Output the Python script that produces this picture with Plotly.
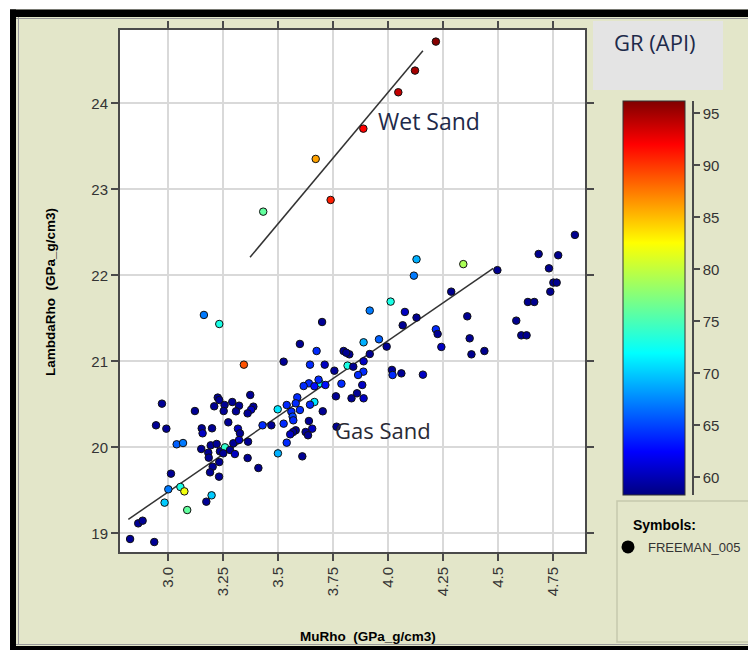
import plotly.graph_objects as go

# ---------------- data ----------------
gas_mu = [4.130, 4.118, 4.343, 4.498, 4.686, 4.775, 4.733, 4.753, 4.768, 4.739,
          4.637, 4.666, 4.584, 4.607, 4.631, 4.288, 4.012, 3.917, 4.077, 4.130,
          4.067, 4.361, 4.218, 4.226, 4.372, 4.243, 4.380, 4.439, 3.700, 3.889,
          3.959, 3.994, 3.917, 3.798, 3.824, 3.810, 3.599, 3.675, 3.525, 3.645,
          3.712, 3.816, 3.842, 3.889, 3.756, 3.888, 3.864, 4.018, 4.021, 4.061,
          4.159, 3.788, 3.883, 3.859, 3.834, 3.889, 3.763, 3.690, 3.715, 3.684,
          3.640, 3.616, 3.665, 3.665, 3.645, 3.703, 3.587, 3.580, 3.539, 3.599,
          3.560, 3.566, 3.569, 3.498, 3.525, 3.640, 3.655, 3.625, 3.636, 3.580,
          3.568, 3.555, 3.539, 3.499, 3.610, 3.469, 3.429, 3.373, 3.387, 3.377,
          3.361, 3.322, 3.308, 3.291, 3.225, 3.232, 3.209, 3.256, 3.252, 3.121,
          2.971, 2.944, 2.991, 3.152, 3.156, 3.199, 3.273, 3.317, 3.326, 3.363,
          3.296, 3.322, 3.038, 3.067, 3.150, 3.193, 3.220, 3.182, 3.184, 3.235,
          3.258, 3.281, 3.303, 3.250, 3.232, 3.361, 3.410, 3.202, 3.190, 3.231,
          3.012, 3.000, 3.055, 3.073, 2.983, 3.086, 3.197, 3.173, 2.863, 2.883,
          2.826, 2.936, 3.162, 3.232, 3.344, 4.851, 3.766]
gas_lambda = [22.186, 21.996, 22.130, 22.060, 22.248, 22.233, 22.081, 21.915, 21.915, 21.810,
              21.690, 21.690, 21.473, 21.302, 21.302, 21.810, 21.694, 21.590, 21.574, 21.508,
              21.419, 21.523, 21.372, 21.318, 21.267, 21.167, 21.081, 21.120, 21.457, 21.221,
              21.256, 21.171, 21.085, 21.120, 21.081, 21.100, 21.202, 21.120, 20.996, 20.961,
              20.961, 20.950, 20.938, 21.000, 20.891, 20.880, 20.841, 20.900, 20.841, 20.860,
              20.845, 20.740, 20.725, 20.628, 20.570, 20.570, 20.593, 20.744, 20.725, 20.787,
              20.744, 20.713, 20.710, 20.527, 20.496, 20.419, 20.581, 20.512, 20.492, 20.434,
              20.415, 20.357, 20.314, 20.442, 20.275, 20.306, 20.217, 20.178, 20.140, 20.198,
              20.178, 20.151, 20.054, 19.930, 19.895, 20.256, 20.256, 20.609, 20.473, 20.438,
              20.395, 20.484, 20.419, 20.527, 20.578, 20.550, 20.477, 20.492, 20.422, 20.422,
              20.508, 20.256, 20.217, 20.221, 20.163, 20.221, 20.291, 20.217, 20.163, 20.066,
              20.047, 20.085, 20.035, 20.050, 19.981, 20.023, 20.039, 19.938, 19.880, 19.953,
              20.000, 19.969, 19.922, 19.930, 19.829, 19.876, 19.760, 19.775, 19.709, 19.659,
              19.694, 19.512, 19.539, 19.488, 19.357, 19.271, 19.442, 19.368, 19.116, 19.147,
              18.934, 18.899, 21.539, 21.434, 20.961, 22.470, 20.240]
gas_gr = [69, 67, 79, 58.8, 58.8, 58.8, 58.8, 58.8, 58.8, 58.8,
          58.8, 58.8, 58.8, 58.8, 58.8, 58.8, 73, 67, 60.5, 58.8,
          59, 59, 64, 59, 59, 60.5, 58.8, 58.8, 59, 69,
          66, 59, 59, 59, 59, 59, 59, 64, 59, 64,
          60.5, 73, 59, 60.5, 59, 64, 64, 59, 64, 59,
          60.5, 64, 60.5, 59, 59, 60.5, 59, 72, 63, 64,
          64, 64, 63, 71, 64, 59, 64, 64, 64, 64,
          64, 65, 64, 71, 64, 59, 60.5, 59, 59, 59,
          59, 60.5, 64, 69, 59, 59, 64, 59, 59, 60.5,
          59, 59, 59, 59, 59, 59, 59, 59, 59, 59,
          59, 59, 59, 59, 60.5, 59, 59, 60.5, 59, 59,
          59, 60.5, 66, 67, 59, 59, 59, 59, 59, 59,
          74, 59, 60.5, 59, 59, 59, 58.8, 59, 59, 59,
          59, 67, 73, 82, 70, 76, 70, 59, 59, 59,
          59, 59, 67, 73, 89, 58.8, 59]

wet_mu = [4.218, 4.123, 4.047, 3.888, 3.671, 3.739, 3.432]
wet_lambda = [24.717, 24.380, 24.128, 23.705, 23.353, 22.876, 22.740]
wet_gr = [96, 95, 94, 92, 86, 91, 76]

gas_trend_mu = [2.818, 4.479]
gas_trend_lambda = [19.163, 22.080]
wet_trend_mu = [3.372, 4.159]
wet_trend_lambda = [22.21, 24.61]

x_tickvals = [3.0, 3.25, 3.5, 3.75, 4.0, 4.25, 4.5, 4.75]
x_ticktext = ["3.0", "3.25", "3.5", "3.75", "4.0", "4.25", "4.5", "4.75"]
y_tickvals = [19, 20, 21, 22, 23, 24]
gr_tickvals = [60, 65, 70, 75, 80, 85, 90, 95]
gr_min, gr_max = 58.3, 96.2

# ---------------- layout geometry ----------------
W, H = 748, 650
L, R, T, B = 120, 0, 30, 98
PW, PH = W - L - R, H - T - B


def fx(p):
    return (p - L) / PW


def fy(p):
    return (H - B - p) / PH


jet = [[0.0, "rgb(0,0,128)"], [0.11, "rgb(0,0,255)"], [0.36, "rgb(0,255,255)"],
       [0.5, "rgb(128,255,128)"], [0.64, "rgb(255,255,0)"], [0.89, "rgb(255,0,0)"],
       [1.0, "rgb(128,0,0)"]]

BEIGE = "#e3e6c9"
TXT = "#1e2a4a"
FONT = "Liberation Sans, Arial, sans-serif"

fig = go.Figure()

fig.add_trace(go.Scatter(x=gas_trend_mu, y=gas_trend_lambda, mode="lines",
                         line=dict(color="#333333", width=1.5), showlegend=False,
                         hoverinfo="skip"))
fig.add_trace(go.Scatter(x=wet_trend_mu, y=wet_trend_lambda, mode="lines",
                         line=dict(color="#333333", width=1.5), showlegend=False,
                         hoverinfo="skip"))

fig.add_trace(go.Scatter(
    x=gas_mu + wet_mu, y=gas_lambda + wet_lambda, mode="markers", showlegend=False,
    marker=dict(size=7.5, color=gas_gr + wet_gr, colorscale=jet, cmin=gr_min, cmax=gr_max,
                line=dict(color="#111111", width=1),
                colorbar=dict(x=fx(623), xanchor="left", xpad=0, ypad=0,
                              thickness=62, thicknessmode="pixels",
                              len=394, lenmode="pixels", y=fy(298), yanchor="middle",
                              showticklabels=False, ticks="",
                              outlinewidth=1, outlinecolor="#333333")),
))

# legend entry
fig.add_trace(go.Scatter(x=[None], y=[None], mode="markers", name="FREEMAN_005",
                         marker=dict(size=13, color="black"), showlegend=True))

# colour scale axis
fig.add_trace(go.Scatter(x=[None], y=[None], xaxis="x2", yaxis="y2",
                         showlegend=False, hoverinfo="skip"))

axis_common = dict(showgrid=True, gridcolor="#d9d9d9", gridwidth=2, zeroline=False,
                   showline=True, linecolor="#4a4a4a", linewidth=2, mirror="ticks",
                   ticks="outside", ticklen=7, tickwidth=1.5, tickcolor="#4a4a4a",
                   tickfont=dict(family=FONT, size=15, color="#333333"))

fig.update_layout(
    width=W, height=H,
    margin=dict(l=L, r=R, t=T, b=B, pad=0, autoexpand=False),
    paper_bgcolor=BEIGE, plot_bgcolor="rgba(0,0,0,0)",
    xaxis=dict(domain=[0, fx(585)], range=[2.78, 4.897], tickvals=x_tickvals,
               ticktext=x_ticktext, tickangle=-90, anchor="y", **axis_common),
    yaxis=dict(domain=[0, 1], range=[18.783, 24.852], tickvals=y_tickvals,
               anchor="x", **axis_common),
    xaxis2=dict(domain=[fx(623), fx(692)], range=[0, 1], visible=False, anchor="y2"),
    yaxis2=dict(domain=[fy(495), fy(101)], range=[gr_min, gr_max], anchor="x2",
                side="right", showline=True, linecolor="#4a4a4a", linewidth=1.5,
                ticks="outside", ticklen=6, tickwidth=1.5, tickcolor="#4a4a4a",
                tickvals=gr_tickvals, showgrid=False, zeroline=False,
                tickfont=dict(family=FONT, size=15, color="#333333")),
    showlegend=True,
    legend=dict(x=fx(608), y=fy(547), xanchor="left", yanchor="middle",
                bgcolor="rgba(0,0,0,0)", borderwidth=0,
                font=dict(family=FONT, size=13, color="#333333")),
    font=dict(family=FONT),
)

shapes = [
    # white plot background
    dict(type="rect", xref="x domain", yref="y domain", x0=0, x1=1, y0=0, y1=1,
         fillcolor="white", line=dict(width=0), layer="below"),
    # outer frame
    dict(type="rect", xref="paper", yref="paper", x0=fx(0), x1=fx(W), y0=fy(9.5), y1=fy(0),
         fillcolor="white", line=dict(width=0)),
    dict(type="rect", xref="paper", yref="paper", x0=fx(0), x1=fx(10), y0=fy(H), y1=fy(0),
         fillcolor="white", line=dict(width=0)),
    dict(type="rect", xref="paper", yref="paper", x0=fx(10), x1=fx(W), y0=fy(17), y1=fy(9.5),
         fillcolor="black", line=dict(width=0)),
    dict(type="rect", xref="paper", yref="paper", x0=fx(10), x1=fx(16), y0=fy(H), y1=fy(9.5),
         fillcolor="black", line=dict(width=0)),
    dict(type="rect", xref="paper", yref="paper", x0=fx(10), x1=fx(W), y0=fy(H), y1=fy(646),
         fillcolor="black", line=dict(width=0)),
    dict(type="line", xref="paper", yref="paper", x0=fx(16), x1=fx(W), y0=fy(18.5), y1=fy(18.5),
         line=dict(color="#9a9a9a", width=1)),
    dict(type="line", xref="paper", yref="paper", x0=fx(18.5), x1=fx(18.5), y0=fy(645), y1=fy(17),
         line=dict(color="#9a9a9a", width=1)),
    dict(type="line", xref="paper", yref="paper", x0=fx(16), x1=fx(W), y0=fy(644.5), y1=fy(644.5),
         line=dict(color="#9a9a9a", width=1)),
    # title box
    dict(type="rect", xref="paper", yref="paper", x0=fx(593), x1=fx(723), y0=fy(90), y1=fy(21),
         fillcolor="#e4e4e4", line=dict(width=0)),
    # legend box
    dict(type="rect", xref="paper", yref="paper", x0=fx(617), x1=fx(760), y0=fy(642), y1=fy(501),
         fillcolor="rgba(0,0,0,0)", line=dict(color="#c6c9ad", width=1.5)),
]
fig.update_layout(shapes=shapes)

annotations = [
    dict(text="GR (API)", xref="paper", yref="paper", x=fx(655), y=fy(42),
         xanchor="center", yanchor="middle", showarrow=False,
         font=dict(family="Open Sans, sans-serif", size=22, color=TXT)),
    dict(text="Wet Sand", xref="x", yref="y", x=3.945, y=23.794,
         xanchor="left", yanchor="middle", showarrow=False,
         font=dict(family="Open Sans, sans-serif", size=23, color=TXT)),
    dict(text="Gas Sand", xref="x", yref="y", x=3.751, y=20.201,
         xanchor="left", yanchor="middle", showarrow=False,
         font=dict(family="Open Sans, sans-serif", size=22, color="#2a2a35")),
    dict(text="<b>Symbols:</b>", xref="paper", yref="paper", x=fx(631), y=fy(525),
         xanchor="left", yanchor="middle", showarrow=False,
         font=dict(family=FONT, size=14, color="black")),
    dict(text="<b>LambdaRho\u00a0 (GPa_g/cm3)</b>", xref="paper", yref="paper",
         x=fx(50), y=fy(292), xanchor="center", yanchor="middle", textangle=-90,
         showarrow=False, font=dict(family=FONT, size=13.5, color="black")),
    dict(text="<b>MuRho\u00a0 (GPa_g/cm3)</b>", xref="paper", yref="paper",
         x=fx(368), y=fy(636), xanchor="center", yanchor="middle",
         showarrow=False, font=dict(family=FONT, size=13.5, color="black")),
]
fig.update_layout(annotations=annotations)

fig.write_html("out.html")
